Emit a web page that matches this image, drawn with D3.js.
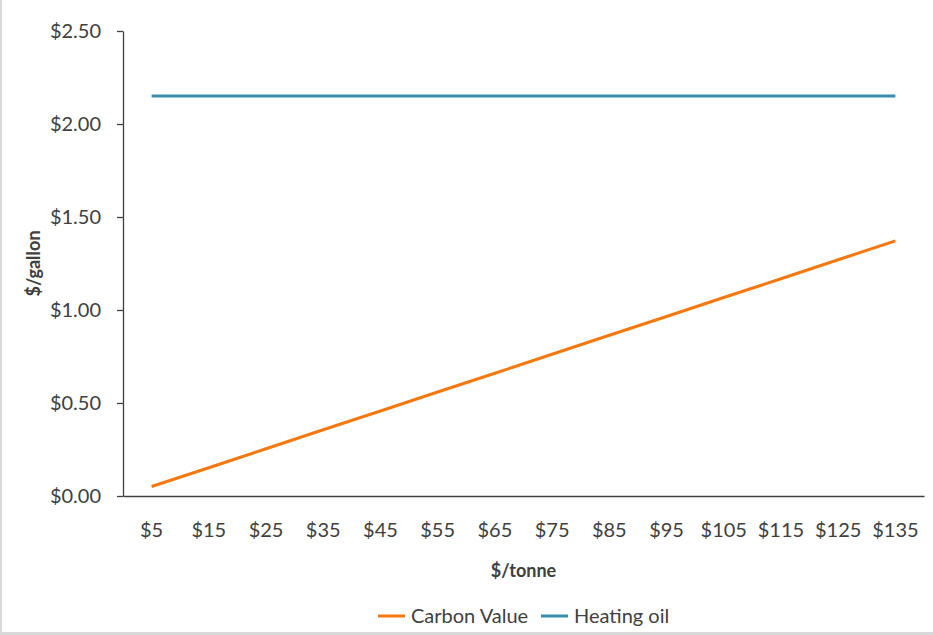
<!DOCTYPE html>
<html>
<head>
<meta charset="utf-8">
<script src="https://cdn.jsdelivr.net/npm/d3@7"></script>
<style>
  html, body { margin: 0; padding: 0; background: #fff; }
  svg { display: block; }
  svg text { font-family: Lato, "Open Sans", "Noto Sans", sans-serif; }
</style>
</head>
<body>
<svg id="chart" width="933" height="635"></svg>
<script>
// Carbon price scenarios ($/tonne CO2)
const categories = ["$5", "$15", "$25", "$35", "$45", "$55", "$65", "$75", "$85", "$95", "$105", "$115", "$125", "$135"];
// Carbon cost per gallon of heating oil
const carbonValue = [0.051, 0.152, 0.254, 0.356, 0.457, 0.559, 0.660, 0.762, 0.864, 0.965, 1.067, 1.168, 1.270, 1.372];
// Heating oil price per gallon
const heatingOil = [2.15, 2.15, 2.15, 2.15, 2.15, 2.15, 2.15, 2.15, 2.15, 2.15, 2.15, 2.15, 2.15, 2.15];
const yTicks = [0, 0.5, 1.0, 1.5, 2.0, 2.5];

const series = [
  { name: "Carbon Value", values: carbonValue, color: "#F5780F" },
  { name: "Heating oil", values: heatingOil, color: "#3A8BB0" }
];

const svg = d3.select("#chart");
const W = 933, H = 635;
const margin = { left: 123, right: 9, top: 31, bottom: 139 };

// frame edges
svg.append("rect").attr("x", 0).attr("y", 0).attr("width", 2).attr("height", H).attr("fill", "#d9d9d9");
svg.append("rect").attr("x", 0).attr("y", 632).attr("width", W).attr("height", 3).attr("fill", "#d9d9d9");

const x = d3.scaleBand().domain(categories).range([margin.left, W - margin.right]);
const y = d3.scaleLinear().domain([0, 2.5]).range([H - margin.bottom, margin.top]);

const textColor = "#404040";

// y axis
const yAxis = svg.append("g")
  .attr("transform", `translate(${margin.left},0)`)
  .call(d3.axisLeft(y).tickValues(yTicks).tickSize(6).tickSizeOuter(0).tickPadding(16)
    .tickFormat(d => "$" + d3.format(".2f")(d)));
yAxis.attr("font-family", null).attr("font-size", null);
yAxis.select(".domain").attr("stroke", "#404040").attr("stroke-width", 1.3);
yAxis.selectAll(".tick line").attr("stroke", "#404040").attr("stroke-width", 1.3);
yAxis.selectAll(".tick text").attr("fill", textColor).style("font-size", "20px");

// x axis
const xAxis = svg.append("g")
  .attr("transform", `translate(0,${y(0)})`)
  .call(d3.axisBottom(x).tickSize(0).tickPadding(27).tickSizeOuter(0));
xAxis.attr("font-family", null).attr("font-size", null);
xAxis.select(".domain").attr("stroke", "#404040").attr("stroke-width", 1.3);
xAxis.selectAll(".tick text").attr("fill", textColor).style("font-size", "20px");

// lines
const line = d3.line()
  .x((d, i) => x(categories[i]) + x.bandwidth() / 2)
  .y(d => y(d));
series.forEach(s => {
  svg.append("path")
    .datum(s.values)
    .attr("fill", "none")
    .attr("stroke", s.color)
    .attr("stroke-width", 3)
    .attr("d", line);
});

// axis titles
svg.append("text")
  .attr("transform", `translate(40,${(y(0) + y(2.5)) / 2}) rotate(-90)`)
  .attr("text-anchor", "middle")
  .attr("fill", textColor)
  .style("font-size", "18px").style("font-weight", "bold")
  .text("$/gallon");

svg.append("text")
  .attr("x", (margin.left + W - margin.right) / 2)
  .attr("y", 577)
  .attr("text-anchor", "middle")
  .attr("fill", textColor)
  .style("font-size", "18px").style("font-weight", "bold")
  .text("$/tonne");

// legend
const legendItems = [
  { s: series[0], x: 378 },
  { s: series[1], x: 541 }
];
legendItems.forEach(({ s, x: lx }) => {
  const g = svg.append("g").attr("transform", `translate(${lx},616)`);
  g.append("line").attr("x1", 0).attr("x2", 27).attr("y1", 0).attr("y2", 0)
    .attr("stroke", s.color).attr("stroke-width", 3);
  g.append("text").attr("x", 33).attr("y", 7)
    .attr("fill", textColor).style("font-size", "20px")
    .text(s.name);
});
</script>
</body>
</html>
